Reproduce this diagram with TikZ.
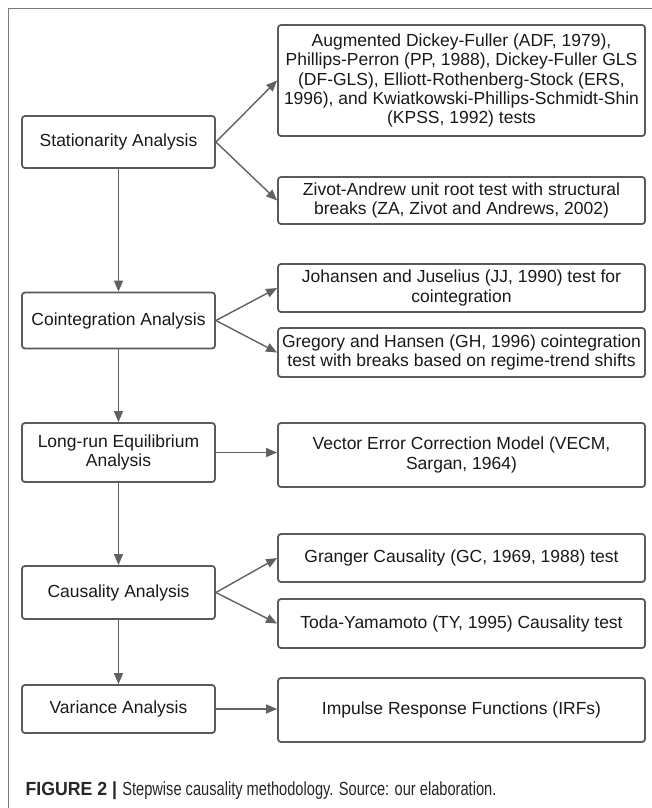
\documentclass[tikz,border=0pt]{standalone}
\usepackage{xcolor}
\usepackage{fontspec}
\setmainfont{Liberation Sans}
\newfontfamily\capboldfont[FakeStretch=0.93]{Liberation Sans}
\newfontfamily\capfont[FakeStretch=0.77]{Liberation Sans}
\usetikzlibrary{arrows.meta}
\definecolor{boxline}{HTML}{5A5A5A}
\definecolor{arrowline}{HTML}{616161}
\definecolor{frameline}{HTML}{7A7A7A}

\begin{document}
\begin{tikzpicture}[x=1pt,y=-1pt,->,>={Triangle[length=11pt,width=9pt]},
                    arrowline,line width=1.4pt,
                    every node/.style={text=black!90,font=\fontsize{17.5}{19.3}\selectfont},
                    step node/.style={draw=boxline,line width=1.8pt,rounded corners=3pt,
                      minimum width=193pt,align=center,inner sep=0pt},
                    test node/.style={draw=boxline,line width=1.8pt,rounded corners=3pt,
                      minimum width=367pt,align=center,inner sep=0pt}]

  \useasboundingbox (0,0) rectangle (651,808);
  \draw[-,frameline,line width=1pt] (8,830) |- (680,9);

  % steps on the left
  \node[step node,minimum height=52pt] (stat) at (118.5,142) {Stationarity Analysis};
  \node[step node,minimum height=56pt] (coint) at (118.5,320.5) {Cointegration Analysis};
  \node[step node,minimum height=59pt] (lr) at (118.5,452.5) {Long-run Equilibrium\\Analysis};
  \node[step node,minimum height=53pt] (caus) at (118.5,592.5) {Causality Analysis};
  \node[step node,minimum height=48pt] (var) at (118.5,709) {Variance Analysis};

  % tests on the right
  \node[test node,minimum height=111pt] (adf) at (461.5,80.5)
    {Augmented Dickey-Fuller (ADF, 1979),\\Phillips-Perron (PP, 1988), Dickey-Fuller GLS\\
     (DF-GLS), Elliott-Rothenberg-Stock (ERS,\\1996), and Kwiatkowski-Phillips-Schmidt-Shin\\
     (KPSS, 1992) tests};
  \node[test node,minimum height=47pt] (za) at (461.5,200.5)
    {Zivot-Andrew unit root test with structural\\breaks (ZA, Zivot and Andrews, 2002)};
  \node[test node,minimum height=48pt] (jj) at (461.5,288)
    {Johansen and Juselius (JJ, 1990) test for\\cointegration};
  \node[test node,minimum height=49pt] (gh) at (461.5,352.5)
    {Gregory and Hansen (GH, 1996) cointegration\\test with breaks based on regime-trend shifts};
  \node[test node,minimum height=64pt] (vecm) at (461.5,455)
    {Vector Error Correction Model (VECM,\\Sargan, 1964)};
  \node[test node,minimum height=48pt] (gc) at (461.5,558)
    {Granger Causality (GC, 1969, 1988) test};
  \node[test node,minimum height=49pt] (ty) at (461.5,623.5)
    {Toda-Yamamoto (TY, 1995) Causality test};
  \node[test node,minimum height=64pt] (irf) at (461.5,710)
    {Impulse Response Functions (IRFs)};

  \path
    (stat) edge (coint)
    (coint) edge (lr)
    (lr) edge (caus)
    (caus) edge (var)
    (stat.east) edge (adf.west)
    (stat.east) edge (za.west)
    (coint.east) edge (jj.west)
    (coint.east) edge (gh.west)
    (caus.east) edge (gc.west)
    (caus.east) edge (ty.west);
  \draw (lr.east) -- (lr.east -| vecm.west);
  \draw (var.east) -- (var.east -| irf.west);

  \node[anchor=base west,inner sep=0pt,font=\fontsize{19}{22}\selectfont,text=black!85] (caption) at (25,795)
    {{\capboldfont\bfseries FIGURE 2 |} {\capfont Stepwise causality methodology. Source: our elaboration.}};
\end{tikzpicture}
\end{document}
